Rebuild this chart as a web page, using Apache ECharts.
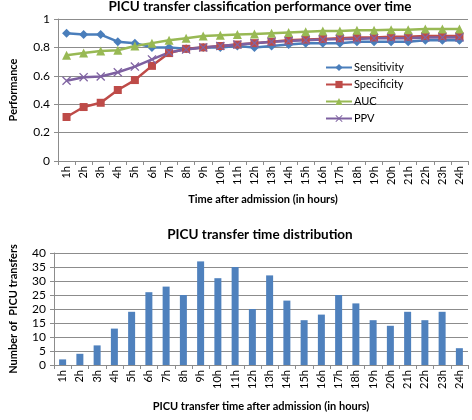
<!DOCTYPE html>
<html>
<head>
<meta charset="utf-8">
<script src="https://cdn.jsdelivr.net/npm/echarts@6/dist/echarts.min.js"></script>
<style>
  html, body { margin: 0; padding: 0; background: #fff; }
  #chart { width: 472px; height: 420px; }
</style>
</head>
<body>
<div id="chart"></div>
<script>
// hours after admission
const hours = ['1h', '2h', '3h', '4h', '5h', '6h', '7h', '8h', '9h', '10h', '11h', '12h',
  '13h', '14h', '15h', '16h', '17h', '18h', '19h', '20h', '21h', '22h', '23h', '24h'];

// classification performance (top chart)
const sensitivity = [0.90, 0.89, 0.89, 0.84, 0.83, 0.80, 0.80, 0.79, 0.80, 0.80, 0.81, 0.80,
  0.81, 0.82, 0.83, 0.83, 0.83, 0.84, 0.84, 0.84, 0.84, 0.85, 0.85, 0.85];
const specificity = [0.31, 0.38, 0.41, 0.50, 0.57, 0.67, 0.76, 0.79, 0.80, 0.81, 0.82, 0.83,
  0.84, 0.85, 0.855, 0.86, 0.865, 0.87, 0.87, 0.875, 0.875, 0.88, 0.88, 0.88];
const auc = [0.745, 0.76, 0.775, 0.78, 0.81, 0.83, 0.85, 0.865, 0.88, 0.885, 0.89, 0.895,
  0.90, 0.905, 0.91, 0.915, 0.915, 0.92, 0.92, 0.925, 0.925, 0.93, 0.93, 0.93];
const ppv = [0.565, 0.59, 0.595, 0.625, 0.665, 0.715, 0.765, 0.785, 0.80, 0.81, 0.82, 0.83,
  0.84, 0.845, 0.85, 0.855, 0.86, 0.86, 0.865, 0.865, 0.865, 0.87, 0.87, 0.87];

// transfer counts (bottom chart)
const transfers = [2, 4, 7, 13, 19, 26, 28, 25, 37, 31, 35, 20, 32, 23, 16, 18, 25, 22, 16, 14, 19, 16, 19, 6];

const font = 'Lato, "Open Sans", sans-serif';
const gridColor = '#8c8c8c';
const crossPath = 'path://M1,0 L5,4 L9,0 L10,1 L6,5 L10,9 L9,10 L5,6 L1,10 L0,9 L4,5 L0,1 Z';

const chart = echarts.init(document.getElementById('chart'));

function catAxis(idx, name, nameGap) {
  return {
    type: 'category',
    gridIndex: idx,
    data: hours,
    boundaryGap: true,
    name: name,
    nameLocation: 'middle',
    nameGap: nameGap,
    nameTextStyle: { fontFamily: font, fontWeight: 'bold', fontSize: 11, color: '#000' },
    axisLine: { lineStyle: { color: gridColor, width: 1 } },
    axisTick: { show: true, alignWithLabel: false, length: 4, lineStyle: { color: gridColor } },
    axisLabel: { rotate: 90, interval: 0, fontFamily: font, fontSize: 11, color: '#000', margin: 5 }
  };
}

function valAxis(idx, name, max, interval, nameGap) {
  return {
    type: 'value',
    gridIndex: idx,
    min: 0,
    max: max,
    interval: interval,
    name: name,
    nameLocation: 'middle',
    nameGap: nameGap,
    nameTextStyle: { fontFamily: font, fontWeight: 'bold', fontSize: 11, color: '#000' },
    axisLine: { show: true, lineStyle: { color: gridColor, width: 1 } },
    axisTick: { show: true, length: 4, lineStyle: { color: gridColor } },
    axisLabel: { fontFamily: font, fontSize: 12, color: '#000', margin: 8 },
    splitLine: { lineStyle: { color: gridColor, width: 1 } }
  };
}

const option = {
  backgroundColor: '#fff',
  animation: false,
  title: [
    {
      text: 'PICU transfer classification performance over time',
      left: 255, top: -5, textAlign: 'center',
      textStyle: { fontFamily: font, fontWeight: 'bold', fontSize: 13.5, color: '#000' }
    },
    {
      text: 'PICU transfer time distribution',
      left: 255, top: 223, textAlign: 'center',
      textStyle: { fontFamily: font, fontWeight: 'bold', fontSize: 13.5, color: '#000' }
    }
  ],
  legend: {
    left: 320, top: 57,
    orient: 'vertical',
    itemWidth: 26, itemHeight: 9, itemGap: 6,
    textStyle: { fontFamily: font, fontSize: 11, color: '#000', padding: [0, 0, 0, -3] },
    data: ['Sensitivity', 'Specificity', 'AUC', 'PPV']
  },
  grid: [
    { left: 43, right: 4, top: 19, height: 142 },
    { left: 42, right: 4, top: 253, height: 112 }
  ],
  xAxis: [
    catAxis(0, 'Time after admission (in hours)', 33),
    catAxis(1, 'PICU transfer time after admission (in hours)', 36)
  ],
  yAxis: [
    valAxis(0, 'Performance', 1, 0.2, 39),
    valAxis(1, 'Number of  PICU transfers', 40, 5, 35)
  ],
  series: [
    {
      name: 'Sensitivity', type: 'line', xAxisIndex: 0, yAxisIndex: 0,
      data: sensitivity, symbol: 'diamond', symbolSize: 9,
      itemStyle: { color: '#4a7ebb' }, lineStyle: { width: 2.5, color: '#4a7ebb' }
    },
    {
      name: 'Specificity', type: 'line', xAxisIndex: 0, yAxisIndex: 0,
      data: specificity, symbol: 'rect', symbolSize: 8,
      itemStyle: { color: '#be4b48' }, lineStyle: { width: 2.5, color: '#be4b48' }
    },
    {
      name: 'AUC', type: 'line', xAxisIndex: 0, yAxisIndex: 0,
      data: auc, symbol: 'triangle', symbolSize: 9,
      itemStyle: { color: '#98b954' }, lineStyle: { width: 2.5, color: '#98b954' }
    },
    {
      name: 'PPV', type: 'line', xAxisIndex: 0, yAxisIndex: 0,
      data: ppv, symbol: crossPath, symbolSize: 9,
      itemStyle: { color: '#8064a2' }, lineStyle: { width: 2.5, color: '#7d60a0' }
    },
    {
      name: 'Transfers', type: 'bar', xAxisIndex: 1, yAxisIndex: 1,
      data: transfers, barWidth: 7,
      itemStyle: { color: '#4f81bd' }
    }
  ]
};

chart.setOption(option);
</script>
</body>
</html>
